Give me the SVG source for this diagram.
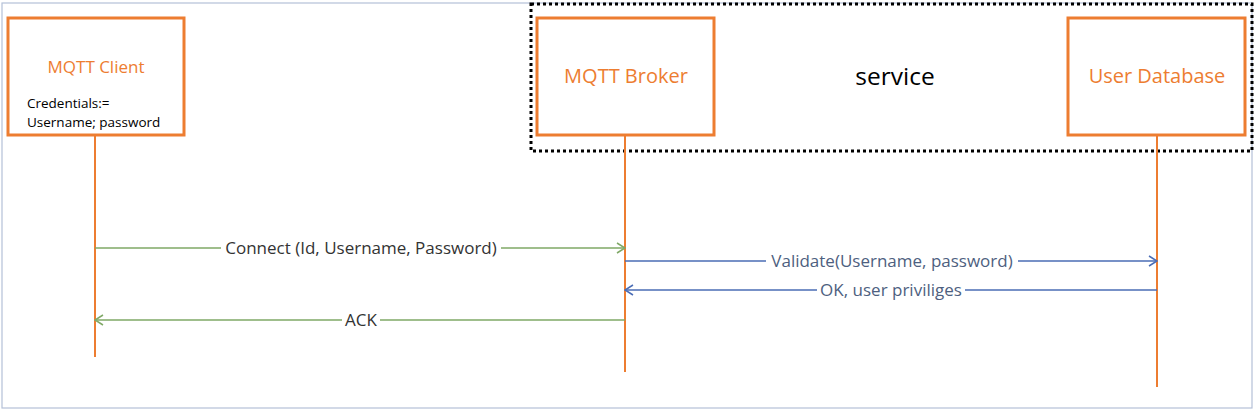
<svg xmlns="http://www.w3.org/2000/svg" width="1256" height="413" viewBox="0 0 1256 413">
<defs>
<style>
.box{fill:#fff;stroke:#ED7D31;stroke-width:3}
.life{stroke:#ED7D31;stroke-width:2;fill:none}
.lbl{font-family:"Open Sans","Liberation Sans",sans-serif;text-anchor:middle}
.org{fill:#ED7D31}
.g{stroke:#7FA866;stroke-width:1.5;fill:none}
.b{stroke:#4A6CB5;stroke-width:1.3;fill:none}
.gt{fill:#333;font-size:17px}
.bt{fill:#4E5F80;font-size:17px}
</style>
<marker id="ag" markerWidth="10" markerHeight="12" refX="9" refY="6" orient="auto" markerUnits="userSpaceOnUse"><path d="M1,1 L9,6 L1,11" fill="none" stroke="#7FA866" stroke-width="1.5"/></marker>
<marker id="ab" markerWidth="10" markerHeight="12" refX="9" refY="6" orient="auto" markerUnits="userSpaceOnUse"><path d="M1,1 L9,6 L1,11" fill="none" stroke="#4A6CB5" stroke-width="1.5"/></marker>
</defs>
<rect x="2" y="3" width="1250" height="405" fill="#fff" stroke="#B4C0D8" stroke-width="1.2"/>
<rect x="531" y="4" width="721" height="147" fill="none" stroke="#000" stroke-width="3" stroke-dasharray="3,3"/>
<g id="connectors">
<line class="life" x1="95" y1="135" x2="95" y2="357"/>
<line class="life" x1="625" y1="135" x2="625" y2="372"/>
<line class="life" x1="1157" y1="135" x2="1157" y2="387"/>
<line class="g" x1="95" y1="248" x2="625" y2="248" marker-end="url(#ag)"/>
<rect x="221" y="238" width="280" height="20" fill="#fff"/>
<text class="lbl gt" x="361" y="254">Connect (Id, Username, Password)</text>
<line class="b" x1="625" y1="261" x2="1157" y2="261" marker-end="url(#ab)"/>
<rect x="766" y="251" width="252" height="20" fill="#fff"/>
<text class="lbl bt" x="892" y="267">Validate(Username, password)</text>
<line class="b" x1="1157" y1="290" x2="625" y2="290" marker-end="url(#ab)"/>
<rect x="817" y="280" width="148" height="20" fill="#fff"/>
<text class="lbl bt" x="891" y="296">OK, user priviliges</text>
<line class="g" x1="625" y1="320" x2="95" y2="320" marker-end="url(#ag)"/>
<rect x="342" y="310" width="38" height="20" fill="#fff"/>
<text class="lbl gt" x="361" y="326">ACK</text>
</g>
<g id="client">
<rect class="box" x="8" y="18" width="176" height="117"/>
<text class="lbl org" x="96" y="73" font-size="17">MQTT Client</text>
<text x="27" y="108" font-family="Open Sans, Liberation Sans, sans-serif" font-size="13.5" fill="#000">Credentials:=</text>
<text x="27" y="127" font-family="Open Sans, Liberation Sans, sans-serif" font-size="13.5" fill="#000">Username; password</text>
</g>
<g id="broker">
<rect class="box" x="537" y="18" width="177" height="117"/>
<text class="lbl org" x="626" y="83" font-size="20">MQTT Broker</text>
</g>
<g id="service">
<text x="895" y="85" font-family="Open Sans, Liberation Sans, sans-serif" font-size="24.5" text-anchor="middle" fill="#000">service</text>
</g>
<g id="userdb">
<rect class="box" x="1068" y="18" width="177" height="117"/>
<text class="lbl org" x="1157" y="83" font-size="20">User Database</text>
</g>
</svg>
